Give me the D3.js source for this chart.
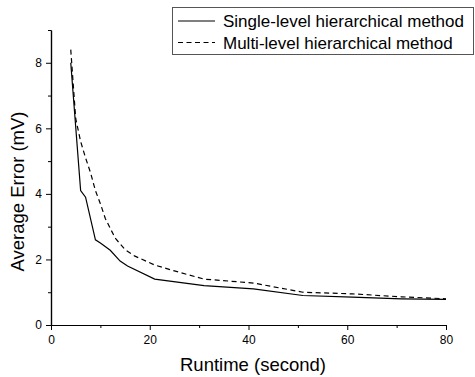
<!DOCTYPE html>
<html>
<head>
<meta charset="utf-8">
<script src="https://cdn.jsdelivr.net/npm/d3@7"></script>
<style>
  body { margin: 0; background: #fff; }
  svg { display: block; font-family: "Liberation Sans", Arial, sans-serif; }
</style>
</head>
<body>
<div id="chart"></div>
<script>
// ---- data ----
const seriesNames = ["Single-level hierarchical method", "Multi-level hierarchical method"];

const singleRuntime = [4, 6, 7, 9, 10, 12, 14, 15.5, 21, 31, 41, 51, 61, 71, 80];
const singleError   = [8.0, 4.1, 3.9, 2.6, 2.5, 2.28, 1.95, 1.8, 1.4, 1.2, 1.1, 0.9, 0.85, 0.8, 0.78];

const multiRuntime = [4, 5, 6, 7, 8, 9, 10, 11, 12, 13, 15, 17, 21, 25, 31, 41, 51, 61, 71, 80];
const multiError   = [8.4, 6.3, 5.6, 5.1, 4.65, 4.1, 3.7, 3.25, 2.95, 2.65, 2.3, 2.1, 1.83, 1.65, 1.4, 1.28, 1.0, 0.95, 0.86, 0.8];

const xTicks = [0, 20, 40, 60, 80];
const xMinor = [10, 30, 50, 70];
const yTicks = [0, 2, 4, 6, 8];
const yMinor = [1, 3, 5, 7, 9];

const width = 475, height = 377;
const margin = { top: 30, right: 29, bottom: 52, left: 51 };
const chartWidth = width - margin.left - margin.right;
const chartHeight = height - margin.top - margin.bottom;

const svg = d3.select("#chart").append("svg")
  .attr("width", width)
  .attr("height", height);

const g = svg.append("g")
  .attr("transform", `translate(${margin.left},${margin.top})`);

const x = d3.scaleLinear().domain([0, 80]).range([0, chartWidth]);
const y = d3.scaleLinear().domain([0, 9]).range([chartHeight, 0]);

// ---- axes ----
const styleAxis = sel => {
  sel.select(".domain").attr("stroke", "#000").attr("stroke-width", 1.2);
  sel.selectAll(".tick line").attr("stroke", "#000");
  sel.selectAll("text").attr("font-size", 12).attr("fill", "#000");
};

g.append("g")
  .attr("transform", `translate(0,${chartHeight})`)
  .call(d3.axisBottom(x).tickValues(xMinor).tickSize(3).tickFormat("").tickSizeOuter(0))
  .call(styleAxis);

g.append("g")
  .attr("transform", `translate(0,${chartHeight})`)
  .call(d3.axisBottom(x).tickValues(xTicks).tickSize(5).tickPadding(5).tickSizeOuter(0))
  .call(styleAxis);

g.append("g")
  .call(d3.axisLeft(y).tickValues(yMinor).tickSize(3).tickFormat("").tickSizeOuter(0))
  .call(styleAxis);

g.append("g")
  .call(d3.axisLeft(y).tickValues(yTicks).tickSize(5).tickPadding(4).tickSizeOuter(0))
  .call(styleAxis);

// ---- axis titles ----
svg.append("text")
  .attr("x", 253)
  .attr("y", 371)
  .attr("text-anchor", "middle")
  .attr("font-size", 18.5)
  .text("Runtime (second)");

svg.append("text")
  .attr("transform", `translate(23.5,191.5) rotate(-90)`)
  .attr("text-anchor", "middle")
  .attr("font-size", 18.5)
  .text("Average Error (mV)");

// ---- lines ----
const line = d3.line().x(d => x(d[0])).y(d => y(d[1]));

const singleData = singleRuntime.map((r, i) => [r, singleError[i]]);
const multiData = multiRuntime.map((r, i) => [r, multiError[i]]);

g.append("path")
  .datum(singleData)
  .attr("fill", "none")
  .attr("stroke", "#000")
  .attr("stroke-width", 1.2)
  .attr("d", line);

g.append("path")
  .datum(multiData)
  .attr("fill", "none")
  .attr("stroke", "#000")
  .attr("stroke-width", 1.2)
  .attr("stroke-dasharray", "5,3.5")
  .attr("d", line);

// ---- legend ----
const legend = svg.append("g");
legend.append("rect")
  .attr("x", 172.5).attr("y", 7.5)
  .attr("width", 301).attr("height", 47)
  .attr("fill", "#fff")
  .attr("stroke", "#555")
  .attr("stroke-width", 1);

const dashes = [null, "5,3.5"];
seriesNames.forEach((name, i) => {
  const ly = 21 + i * 21.5;
  legend.append("line")
    .attr("x1", 178).attr("x2", 215)
    .attr("y1", ly).attr("y2", ly)
    .attr("stroke", "#000")
    .attr("stroke-width", 1.2)
    .attr("stroke-dasharray", dashes[i]);
  legend.append("text")
    .attr("x", 223).attr("y", ly + 6)
    .attr("font-size", 17)
    .text(name);
});
</script>
</body>
</html>
